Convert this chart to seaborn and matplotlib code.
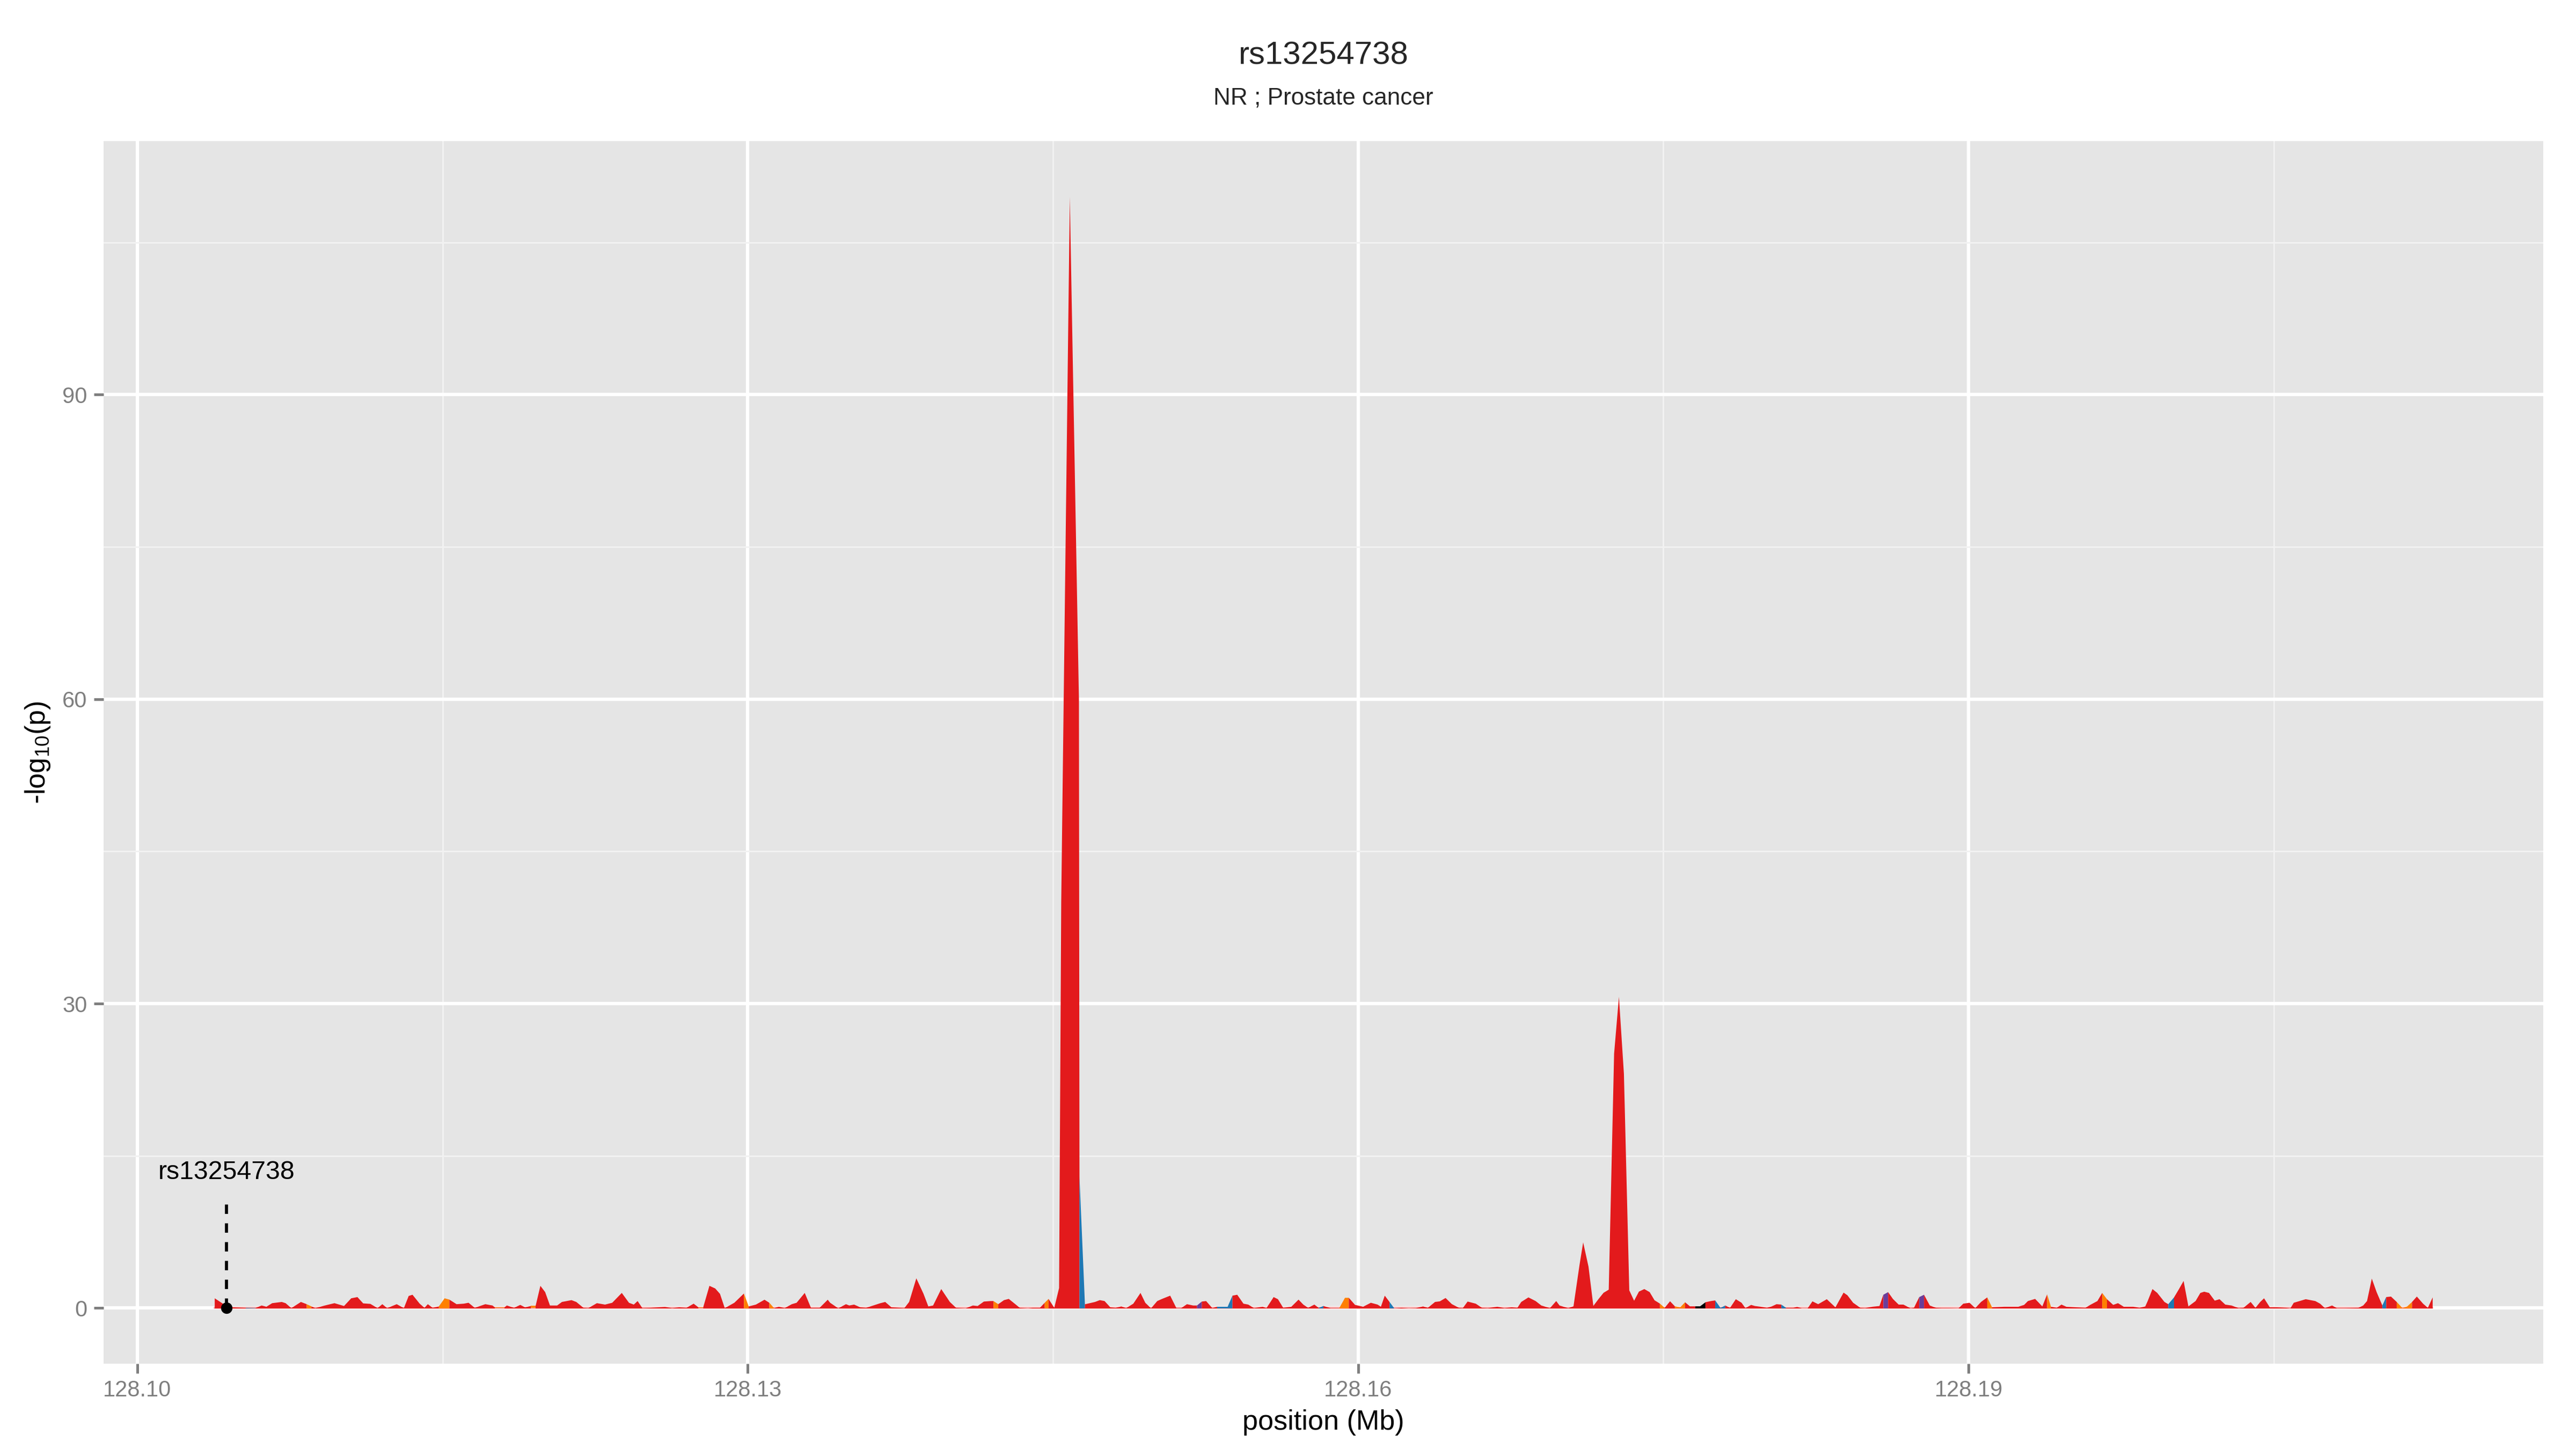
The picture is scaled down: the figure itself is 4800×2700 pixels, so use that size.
"""Regional association plot for rs13254738 (NR ; Prostate cancer)."""

import matplotlib

matplotlib.use("Agg")
import matplotlib.pyplot as plt
from matplotlib.ticker import FixedLocator
import numpy as np
import pandas as pd
import seaborn as sns

TITLE = "rs13254738"
SUBTITLE = "NR ; Prostate cancer"
LEAD_SNP = "rs13254738"
LEAD_POSITION = 128104380
LEAD_STEM_TOP = 10.85
LEAD_LABEL_Y = 12.7

# SNP positions (bp) and -log10(p)
positions = [
    128103793, 128104263, 128104617, 128105323, 128105793, 128106099, 128106335, 128106617, 128107088, 128107276,
    128107559, 128108029, 128108312, 128108547, 128108736, 128109206, 128109677, 128109912, 128110148, 128110501,
    128110807, 128111089, 128111442, 128111795, 128112031, 128112266, 128112737, 128113090, 128113325, 128113513,
    128113867, 128114102, 128114267, 128114502, 128114808, 128115091, 128115326, 128115679, 128116032, 128116267,
    128116573, 128117091, 128117444, 128117562, 128118033, 128118150, 128118503, 128118809, 128119045, 128119327,
    128119563, 128119798, 128120033, 128120269, 128120622, 128120857, 128121328, 128121563, 128121916, 128122152,
    128122575, 128122975, 128123328, 128123799, 128124152, 128124388, 128124576, 128124811, 128125211, 128125918,
    128126271, 128126624, 128126977, 128127330, 128127565, 128127800, 128128106, 128128389, 128128624, 128128860,
    128129330, 128129801, 128130036, 128130390, 128130813, 128131049, 128131284, 128131519, 128131802, 128132155,
    128132390, 128132790, 128133096, 128133520, 128133920, 128134038, 128134438, 128134815, 128134979, 128135215,
    128135521, 128135803, 128136156, 128136509, 128136745, 128137051, 128137686, 128137921, 128138274, 128138628,
    128138863, 128139098, 128139498, 128139922, 128140228, 128140700, 128141053, 128141288, 128141594, 128141924,
    128142065, 128142300, 128142583, 128142818, 128143053, 128143359, 128143760, 128143995, 128144348, 128144583,
    128144772, 128145054, 128145290, 128145395, 128145817, 128146265, 128146292, 128146560, 128147055, 128147290,
    128147525, 128147808, 128148067, 128148349, 128148585, 128148938, 128149291, 128149526, 128149809, 128150115,
    128150350, 128150750, 128151056, 128151291, 128151574, 128151880, 128152068, 128152303, 128152515, 128152821,
    128153057, 128153574, 128153810, 128154045, 128154351, 128154587, 128154869, 128155293, 128155481, 128155834,
    128156046, 128156305, 128156705, 128157058, 128157293, 128157529, 128157835, 128158046, 128158282, 128158635,
    128159059, 128159341, 128159529, 128159835, 128160235, 128160612, 128160942, 128161106, 128161295, 128161530,
    128161765, 128162118, 128162471, 128162825, 128163178, 128163413, 128163766, 128164001, 128164284, 128164590,
    128164943, 128165131, 128165367, 128165767, 128166073, 128166355, 128166826, 128167179, 128167532, 128167814,
    128168002, 128168356, 128168709, 128168991, 128169415, 128169721, 128169885, 128170309, 128170571, 128170861,
    128171046, 128171309, 128171546, 128171810, 128172047, 128172303, 128172567, 128172804, 128173049, 128173313,
    128173550, 128173787, 128174051, 128174314, 128174552, 128174815, 128175053, 128175316, 128175553, 128175817,
    128176054, 128176292, 128176555, 128176792, 128177056, 128177325, 128177536, 128177795, 128178030, 128178266,
    128178548, 128178831, 128179019, 128179301, 128179490, 128179772, 128180078, 128180313, 128180549, 128180784,
    128181020, 128181373, 128181561, 128181796, 128182079, 128182314, 128182597, 128183020, 128183444, 128183844,
    128184032, 128184315, 128184668, 128184903, 128185256, 128185609, 128185798, 128186033, 128186268, 128186551,
    128186786, 128187139, 128187304, 128187563, 128187798, 128188081, 128188387, 128188669, 128189022, 128189493,
    128189728, 128190034, 128190317, 128190599, 128190905, 128191141, 128191729, 128192435, 128192717, 128192906,
    128193259, 128193612, 128193847, 128194036, 128194318, 128194553, 128194789, 128195259, 128195730, 128195966,
    128196319, 128196554, 128196789, 128197095, 128197331, 128197613, 128198084, 128198390, 128198672, 128198790,
    128199025, 128199261, 128199614, 128199802, 128200085, 128200320, 128200555, 128200791, 128201144, 128201379,
    128201567, 128201803, 128202085, 128202321, 128202603, 128202909, 128203262, 128203497, 128203850, 128204086,
    128204321, 128204510, 128204792, 128205145, 128205616, 128205804, 128205969, 128206322, 128206557, 128206793,
    128207028, 128207263, 128207499, 128207852, 128208087, 128208440, 128209146, 128209382, 128209570, 128209805,
    128210041, 128210323, 128210511, 128210747, 128211029, 128211312, 128211547, 128211782, 128212018, 128212324,
    128212559, 128212795,
]

log10p = [
    0.99, 0.37, 0.10, 0.05, 0.03, 0.28, 0.16, 0.51, 0.63, 0.51,
    0.02, 0.63, 0.41, 0.19, 0.02, 0.28, 0.51, 0.37, 0.23, 0.99,
    1.11, 0.49, 0.44, 0.02, 0.41, 0.02, 0.41, 0.02, 1.22, 1.34,
    0.46, 0.05, 0.41, 0.05, 0.19, 0.99, 0.86, 0.41, 0.46, 0.55,
    0.05, 0.41, 0.28, 0.10, 0.10, 0.28, 0.05, 0.34, 0.10, 0.23,
    0.23, 2.22, 1.60, 0.28, 0.28, 0.63, 0.81, 0.63, 0.05, 0.02,
    0.51, 0.37, 0.55, 1.52, 0.55, 0.37, 0.72, 0.02, 0.05, 0.14,
    0.02, 0.10, 0.05, 0.46, 0.10, 0.10, 2.22, 1.96, 1.43, 0.02,
    0.55, 1.46, 0.19, 0.37, 0.85, 0.55, 0.02, 0.16, 0.02, 0.41,
    0.55, 1.52, 0.05, 0.05, 0.85, 0.55, 0.00, 0.41, 0.28, 0.37,
    0.10, 0.05, 0.28, 0.51, 0.63, 0.10, 0.02, 0.63, 2.96, 1.43,
    0.19, 0.28, 1.90, 0.63, 0.05, 0.00, 0.28, 0.23, 0.67, 0.72,
    0.72, 0.41, 0.81, 0.93, 0.55, 0.05, 0.00, 0.05, 0.05, 0.55,
    0.93, 0.05, 2.00, 40.0, 109.5, 60.0, 13.0, 0.40, 0.63, 0.81,
    0.72, 0.10, 0.05, 0.19, 0.02, 0.46, 1.52, 0.55, 0.00, 0.72,
    0.93, 1.25, 0.02, 0.02, 0.41, 0.28, 0.28, 0.67, 0.72, 0.02,
    0.16, 0.16, 1.25, 1.34, 0.46, 0.37, 0.02, 0.16, 0.02, 1.11,
    0.90, 0.05, 0.16, 0.86, 0.37, 0.05, 0.37, 0.05, 0.23, 0.02,
    0.02, 1.04, 1.04, 0.34, 0.16, 0.55, 0.37, 0.16, 1.25, 0.63,
    0.00, 0.05, 0.00, 0.02, 0.19, 0.05, 0.63, 0.69, 1.02, 0.42,
    0.05, 0.02, 0.67, 0.46, 0.05, 0.02, 0.16, 0.02, 0.10, 0.05,
    0.63, 1.08, 0.72, 0.28, 0.02, 0.72, 0.28, 0.02, 0.20, 4.20,
    6.50, 4.10, 0.24, 0.94, 1.53, 1.84, 25.1, 30.7, 23.1, 1.77,
    0.75, 1.65, 1.90, 1.60, 0.80, 0.47, 0.05, 0.70, 0.20, 0.10,
    0.60, 0.20, 0.20, 0.20, 0.60, 0.72, 0.78, 0.05, 0.28, 0.05,
    0.90, 0.55, 0.02, 0.34, 0.23, 0.16, 0.05, 0.19, 0.41, 0.37,
    0.05, 0.05, 0.14, 0.00, 0.00, 0.69, 0.41, 0.90, 0.10, 1.55,
    1.29, 0.55, 0.05, 0.02, 0.16, 0.23, 1.34, 1.60, 0.93, 0.37,
    0.37, 0.00, 0.05, 1.11, 1.34, 0.28, 0.05, 0.02, 0.02, 0.00,
    0.46, 0.55, 0.02, 0.63, 1.08, 0.10, 0.16, 0.16, 0.34, 0.72,
    0.93, 0.19, 1.38, 0.16, 0.05, 0.37, 0.16, 0.10, 0.05, 0.34,
    0.72, 1.52, 0.90, 0.34, 0.51, 0.16, 0.16, 0.05, 0.19, 0.72,
    1.90, 1.52, 0.63, 0.41, 1.08, 1.87, 2.70, 0.19, 0.72, 1.52,
    1.64, 1.52, 0.76, 0.90, 0.37, 0.28, 0.02, 0.05, 0.63, 0.05,
    0.63, 0.99, 0.10, 0.10, 0.05, 0.00, 0.55, 0.76, 0.90, 0.81,
    0.72, 0.46, 0.02, 0.28, 0.02, 0.02, 0.05, 0.28, 0.72, 2.93,
    1.60, 0.28, 1.11, 1.16, 0.63, 0.02, 0.19, 0.63, 1.16, 0.46,
    0.05, 1.08,
]

# SNPs whose following stretch of area is not red
orange_snps = [
    128108312, 128114808, 128115091, 128117562, 128119327, 128127565, 128129801,
    128131049, 128142065, 128144583, 128159059, 128159341, 128174815, 128175553,
    128175817, 128190905, 128193847, 128196554, 128211029, 128211312, 128211547,
]
blue_snps = [
    128105323, 128146292, 128153057, 128153574, 128158046, 128161530,
    128177536, 128177795, 128180784, 128199802, 128210323,
]
purple_snps = [128152068, 128185798, 128187563]
black_snps = [128176555, 128176792]

GROUP_COLOURS = {
    "red": "#E31A1C",
    "orange": "#FF7F00",
    "blue": "#1F78B4",
    "purple": "#6A3D9A",
    "black": "#000000",
}

x_breaks = [128.10, 128.13, 128.16, 128.19]
x_minor = [128.115, 128.145, 128.175, 128.205]
y_breaks = [0, 30, 60, 90]
y_minor = [15, 45, 75, 105]


def build_frame() -> pd.DataFrame:
    assert len(positions) == len(log10p)
    df = pd.DataFrame({"position": positions, "log10p": log10p})
    df["position_mb"] = df["position"] / 1e6
    df["group"] = "red"
    for name, members in [("orange", orange_snps), ("blue", blue_snps),
                          ("purple", purple_snps), ("black", black_snps)]:
        df.loc[df["position"].isin(members), "group"] = name
    return df


def draw_area(ax, df: pd.DataFrame) -> None:
    x = df["position_mb"].to_numpy()
    y = df["log10p"].to_numpy()
    g = df["group"].to_numpy()
    start = 0
    last = len(df) - 1
    for i in range(1, len(df)):
        if g[i] != g[start] or i == last:
            ax.fill_between(x[start:i + 1], y[start:i + 1], 0,
                            color=GROUP_COLOURS[g[start]], linewidth=0, zorder=2)
            start = i
    ax.plot([x[0], x[-1]], [0, 0], color=GROUP_COLOURS["red"], alpha=0.35,
            linewidth=1.0, zorder=1.9)


def main() -> None:
    df = build_frame()

    sns.set_theme(style="darkgrid", rc={
        "axes.facecolor": "#E5E5E5",
        "grid.color": "white",
        "axes.edgecolor": "none",
        "figure.facecolor": "white",
    })
    plt.rcParams["font.family"] = ["Liberation Sans", "DejaVu Sans"]
    plt.rcParams["mathtext.default"] = "regular"

    fig = plt.figure(figsize=(16, 9), dpi=300)
    ax = fig.add_axes([0.0402, 0.0589, 0.9471, 0.8437])

    draw_area(ax, df)

    lead_x = LEAD_POSITION / 1e6
    ax.plot([lead_x, lead_x], [0, LEAD_STEM_TOP], color="black",
            linewidth=1.4, linestyle=(0, (3, 3)), zorder=3)
    sns.scatterplot(x=[lead_x], y=[0.0], color="black", s=26,
                    linewidth=0, ax=ax, zorder=4)
    ax.text(lead_x, LEAD_LABEL_Y, LEAD_SNP, ha="center", va="baseline",
            fontsize=11.6, color="black", zorder=4)

    span = df["position_mb"].max() - df["position_mb"].min()
    ax.set_xlim(df["position_mb"].min() - 0.05 * span,
                df["position_mb"].max() + 0.05 * span)
    top = df["log10p"].max()
    ax.set_ylim(-0.05 * top, 1.05 * top)

    ax.xaxis.set_major_locator(FixedLocator(x_breaks))
    ax.xaxis.set_minor_locator(FixedLocator(x_minor))
    ax.yaxis.set_major_locator(FixedLocator(y_breaks))
    ax.yaxis.set_minor_locator(FixedLocator(y_minor))
    ax.set_xticklabels([f"{v:.2f}" for v in x_breaks])
    ax.set_yticklabels([str(v) for v in y_breaks])

    ax.grid(which="major", color="white", linewidth=1.5)
    ax.grid(which="minor", color="#F2F2F2", linewidth=0.7)
    ax.set_axisbelow(True)
    ax.tick_params(which="major", length=4.3, width=1.2, color="#7F7F7F",
                   labelcolor="#7F7F7F", labelsize=10, pad=3,
                   bottom=True, left=True)
    ax.tick_params(which="minor", length=0)
    for spine in ax.spines.values():
        spine.set_visible(False)

    ax.set_xlabel("position (Mb)", fontsize=12.5, color="black", labelpad=3.5)
    ax.set_ylabel(r"-log$_{10}$(p)", fontsize=12.5, color="black", labelpad=4.5)

    cx = 0.0402 + 0.9471 / 2
    fig.text(cx, 0.9615, TITLE, ha="center", va="center", fontsize=14.4)
    fig.text(cx, 0.9322, SUBTITLE, ha="center", va="center", fontsize=10.6)

    fig.savefig("out.png", dpi=300)
    plt.close(fig)


if __name__ == "__main__":
    main()
